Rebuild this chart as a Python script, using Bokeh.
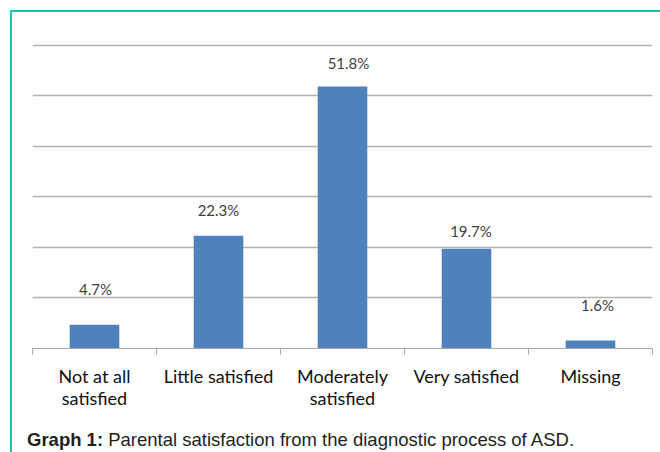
from bokeh.plotting import figure
from bokeh.models import (ColumnDataSource, Range1d, LinearAxis, FixedTicker,
                          Grid, LabelSet, Div)
from bokeh.layouts import column
from bokeh.core.properties import value
from bokeh.embed import file_html
from bokeh.resources import INLINE

# ---- data ----
categories = ["Not at all satisfied", "Little satisfied", "Moderately satisfied",
              "Very satisfied", "Missing"]
tick_labels = ["Not at all\nsatisfied", "Little satisfied", "Moderately\nsatisfied",
               "Very satisfied", "Missing"]
values = [4.7, 22.3, 51.8, 19.7, 1.6]
grid_ticks = [10, 20, 30, 40, 50, 60]
caption_bold = "Graph 1:"
caption_text = "Parental satisfaction from the diagnostic process of ASD."

# ---- styling offsets of the data labels (pixels) ----
label_dx = [1, 0, 6, 4.5, 7]
label_dy = [30, 20, 18, 12, 29]

xs = list(range(len(categories)))
src = ColumnDataSource(dict(
    x=xs, top=values, lab=[f"{v}%" for v in values],
    dx=label_dx, dy=label_dy,
))

p = figure(width=660, height=420, output_backend="svg", toolbar_location=None,
           x_range=Range1d(-0.5, len(categories) - 0.5), y_range=Range1d(0, 60.5),
           x_axis_location=None, y_axis_location=None,
           min_border_left=32, min_border_right=8, min_border_top=42,
           min_border_bottom=72)
p.outline_line_color = None
p.border_fill_color = None
p.background_fill_color = "white"
for r in list(p.center):
    if isinstance(r, Grid):
        r.visible = False

p.add_layout(Grid(dimension=1, ticker=FixedTicker(ticks=grid_ticks),
                  grid_line_color="#b3b3b3", grid_line_width=1.5))

p.vbar(x="x", top="top", width=0.4, source=src, fill_color="#4f81bd",
       line_color=None)

xaxis = LinearAxis(ticker=FixedTicker(ticks=xs,
                                      minor_ticks=[i - 0.5 for i in range(len(categories) + 1)]))
xaxis.major_label_overrides = {i: t for i, t in enumerate(tick_labels)}
xaxis.major_tick_line_color = None
xaxis.major_tick_out = 0
xaxis.major_tick_in = 0
xaxis.minor_tick_line_color = "#a6a6a6"
xaxis.minor_tick_out = 6
xaxis.minor_tick_in = 0
xaxis.axis_line_color = "#a6a6a6"
xaxis.major_label_text_font = "Lato"
xaxis.major_label_text_font_size = "18px"
xaxis.major_label_text_color = "#111111"
xaxis.major_label_text_line_height = 1.02
xaxis.major_label_standoff = 10
p.add_layout(xaxis, "below")

p.add_layout(LabelSet(x="x", y="top", text="lab", source=src,
                      x_offset="dx", y_offset="dy",
                      text_align="center", text_baseline="alphabetic",
                      text_font=value("Lato"), text_font_size="15px",
                      text_color="#404040"))

caption = Div(
    text=(f'<div style="padding:10px 0 0 27px;font-family:\'Liberation Sans\';'
          f'font-size:18.5px;line-height:20px;color:#231f20;white-space:nowrap">'
          f'<b>{caption_bold}</b> {caption_text}</div>'),
    width=660, height=32, margin=0)

layout = column(p, caption, width=660, height=452, spacing=0,
                styles={"box-shadow": "inset 10px 10px 0 0 #ffffff, inset 12px 12px 0 0 #1fc2a7",
                        "background": "#ffffff"})

open("out.html", "w").write(file_html(layout, INLINE))
